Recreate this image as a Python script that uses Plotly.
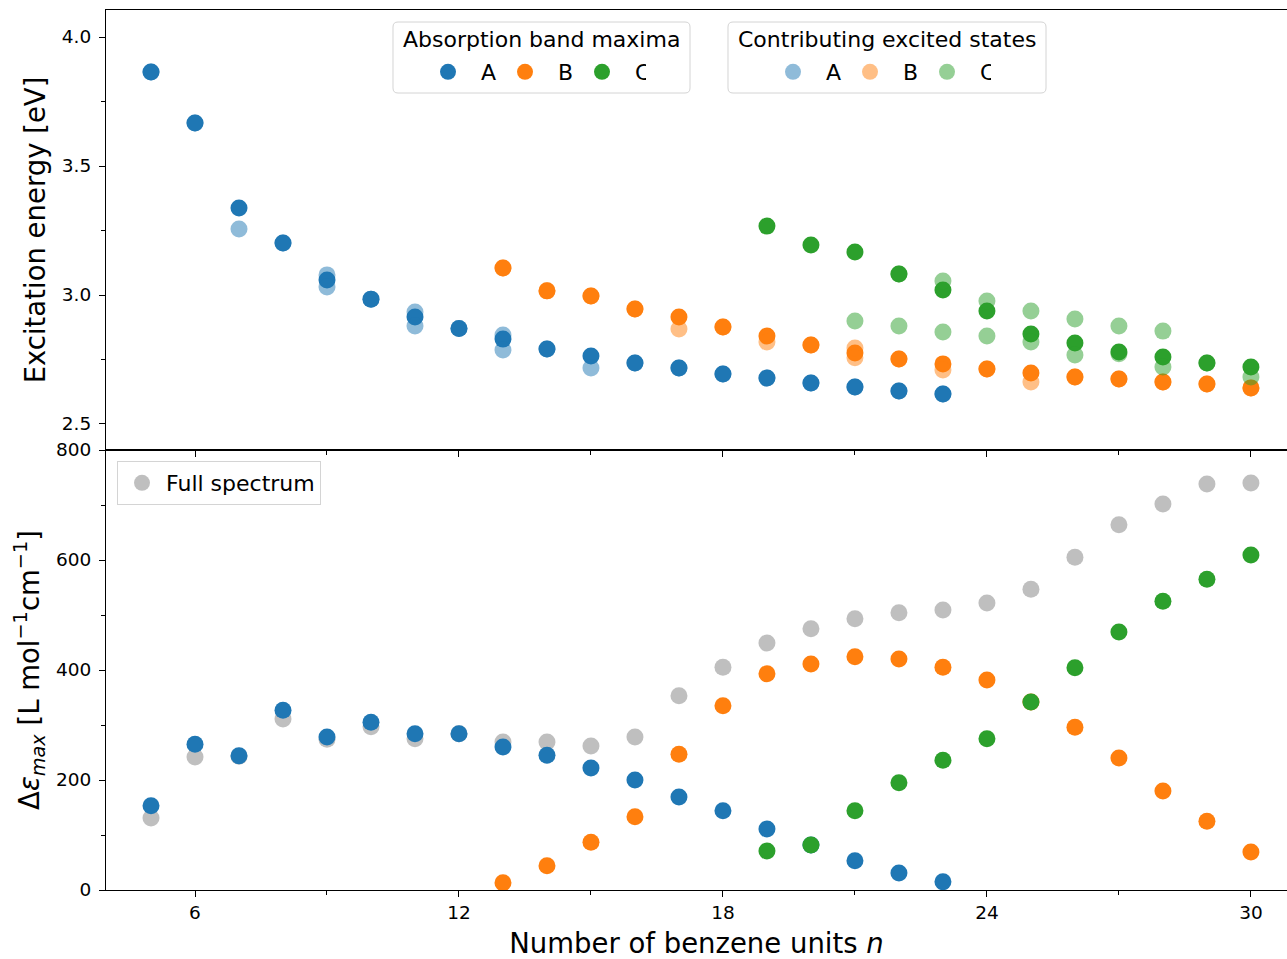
import plotly.graph_objects as go

# ---------------- data ----------------
n_A = list(range(5, 24))
E_A = [3.864, 3.667, 3.337, 3.202, 3.058, 2.984, 2.915, 2.870, 2.829, 2.791,
       2.764, 2.736, 2.717, 2.694, 2.678, 2.659, 2.643, 2.628, 2.616]
n_B = list(range(13, 31))
E_B = [3.105, 3.016, 2.996, 2.946, 2.915, 2.876, 2.841, 2.806, 2.775, 2.752,
       2.733, 2.713, 2.698, 2.682, 2.674, 2.663, 2.655, 2.640]
n_C = list(range(19, 31))
E_C = [3.267, 3.194, 3.167, 3.081, 3.019, 2.938, 2.849, 2.814, 2.779, 2.760,
       2.736, 2.721]

# contributing excited states
xs_A = [5, 6, 7, 8, 9, 9, 10, 11, 11, 12, 13, 13, 14, 15, 16, 17, 18, 19, 20, 21, 22, 23]
es_A = [3.864, 3.667, 3.256, 3.202, 3.078, 3.031, 2.984, 2.934, 2.880, 2.870, 2.845,
        2.787, 2.791, 2.717, 2.736, 2.717, 2.694, 2.678, 2.659, 2.643, 2.628, 2.616]
xs_B = [13, 14, 15, 16, 17, 18, 19, 20, 21, 21, 22, 23, 24, 25, 26, 27, 28, 29, 30]
es_B = [3.105, 3.016, 2.996, 2.946, 2.868, 2.876, 2.818, 2.806, 2.795, 2.757, 2.752,
        2.709, 2.713, 2.663, 2.682, 2.674, 2.663, 2.655, 2.640]
xs_C = [21, 22, 22, 23, 23, 24, 24, 25, 25, 26, 26, 27, 27, 28, 28, 29, 30]
es_C = [2.899, 3.081, 2.880, 3.054, 2.857, 2.977, 2.841, 2.938, 2.818, 2.907, 2.767,
        2.880, 2.772, 2.860, 2.721, 2.736, 2.682]

# intensities
n_full = list(range(5, 31))
eps_full = [131, 242, 243, 311, 274, 297, 275, 284, 269, 269, 262, 278, 353, 405,
            449, 475, 493, 504, 509, 522, 547, 605, 664, 702, 738, 740]
eps_A = [153, 265, 244, 327, 278, 305, 284, 284, 260, 245, 222, 200, 169, 144,
         111, 82, 53, 31, 15]
eps_B = [13, 44, 87, 133, 247, 335, 393, 411, 424, 420, 405, 382, 342, 296, 240,
         180, 125, 69]
eps_C = [71, 82, 144, 195, 236, 275, 342, 404, 469, 525, 565, 609]

labels = ["A", "B", "C"]
colors = ["#1f77b4", "#ff7f0e", "#2ca02c"]
legend_titles = ["Absorption band maxima", "Contributing excited states"]

# ---------------- figure ----------------
FONT = "DejaVu Sans"
MS = 17
W, H = 1287, 959
ML, MT, MB = 106, 10, 69
PW, PH = W - ML, H - MT - MB

fig = go.Figure()

fig.add_trace(go.Scatter(x=n_full, y=eps_full, mode="markers", name="Full spectrum",
                         marker=dict(size=MS, color="rgba(127,127,127,0.5)"),
                         xaxis="x2", yaxis="y2", legend="legend3"))
for lab, col, xx, yy in zip(labels, colors, [n_A, n_B, n_C], [eps_A, eps_B, eps_C]):
    fig.add_trace(go.Scatter(x=xx, y=yy, mode="markers", name=lab, showlegend=False,
                             marker=dict(size=MS, color=col), xaxis="x2", yaxis="y2"))

for lab, col, xx, yy in zip(labels, colors, [n_A, n_B, n_C], [E_A, E_B, E_C]):
    fig.add_trace(go.Scatter(x=xx, y=yy, mode="markers", name=lab,
                             marker=dict(size=MS, color=col),
                             xaxis="x", yaxis="y", legend="legend"))
for lab, col, xx, yy in zip(labels, colors, [xs_A, xs_B, xs_C], [es_A, es_B, es_C]):
    fig.add_trace(go.Scatter(x=xx, y=yy, mode="markers", name=lab,
                             marker=dict(size=MS, color=col, opacity=0.5),
                             xaxis="x", yaxis="y", legend="legend2"))


def px_x(p):
    return (p - ML) / PW


def px_y(p):
    return (H - MB - p) / PH


def rounded_box(x0, y0, x1, y1, r=5):
    X = lambda v: f"{px_x(v):.5f}"
    Y = lambda v: f"{px_y(v):.5f}"
    return (f"M {X(x0 + r)},{Y(y0)} L {X(x1 - r)},{Y(y0)} Q {X(x1)},{Y(y0)} {X(x1)},{Y(y0 + r)} "
            f"L {X(x1)},{Y(y1 - r)} Q {X(x1)},{Y(y1)} {X(x1 - r)},{Y(y1)} "
            f"L {X(x0 + r)},{Y(y1)} Q {X(x0)},{Y(y1)} {X(x0)},{Y(y1 - r)} "
            f"L {X(x0)},{Y(y0 + r)} Q {X(x0)},{Y(y0)} {X(x0 + r)},{Y(y0)} Z")


boxes = [(393, 22, 690, 93), (728, 22, 1046, 93)]
title_cx = [541, 887]
for (bx0, by0, bx1, by1), tx, ttl in zip(boxes, title_cx, legend_titles):
    fig.add_shape(type="path", xref="paper", yref="paper", layer="above",
                  path=rounded_box(bx0, by0, bx1, by1),
                  fillcolor="rgba(255,255,255,0.8)", line=dict(color="#d4d4d4", width=1))
    fig.add_annotation(xref="paper", yref="paper", x=px_x(tx), y=px_y(40),
                       xanchor="center", yanchor="middle", showarrow=False, text=ttl,
                       font=dict(family=FONT, size=22, color="black"))

minor_tick = dict(ticks="outside", ticklen=4, tickwidth=1, tickcolor="black")
axis_common = dict(showline=True, linecolor="black", linewidth=1.2, ticks="outside",
                   ticklen=6, tickwidth=1.2, tickcolor="black", showgrid=False,
                   zeroline=False, automargin=False,
                   tickfont=dict(family=FONT, size=18.5, color="black"))
TFONT = dict(family=FONT, size=27.5, color="black")
xr = [3.977, 30.82]

item_leg = dict(orientation="h", xanchor="left", yanchor="middle", bgcolor="rgba(0,0,0,0)",
                borderwidth=0, itemsizing="trace", itemwidth=56, entrywidth=6,
                font=dict(family=FONT, size=22, color="black"))

fig.update_layout(
    width=W, height=H,
    margin=dict(l=ML, r=0, t=MT, b=MB),
    plot_bgcolor="white", paper_bgcolor="white",
    font=dict(family=FONT, color="black"),
    xaxis=dict(domain=[0, 1], anchor="y", range=xr, tickvals=[6, 12, 18, 24, 30],
               showticklabels=False, mirror=True,
               minor=dict(tickvals=[9, 15, 21, 27], **minor_tick), **axis_common),
    yaxis=dict(domain=[0.5, 1], anchor="x", range=[2.3992, 4.1047],
               tickvals=[2.5, 3.0, 3.5, 4.0], ticktext=["2.5", "3.0", "3.5", "4.0"],
               minor=dict(tickvals=[2.75, 3.25, 3.75], **minor_tick),
               ticklabelstandoff=4,
               title=dict(text="Excitation energy [eV]", font=TFONT, standoff=8),
               **axis_common),
    xaxis2=dict(domain=[0, 1], anchor="y2", range=xr, tickvals=[6, 12, 18, 24, 30],
                matches="x", mirror=True,
                minor=dict(tickvals=[9, 15, 21, 27], **minor_tick),
                title=dict(text="Number of benzene units <i>n</i>", font=TFONT),
                **axis_common),
    yaxis2=dict(domain=[0, 0.5], anchor="x2", range=[0, 800],
                tickvals=[0, 200, 400, 600, 800],
                minor=dict(tickvals=[100, 300, 500, 700], **minor_tick),
                ticklabelstandoff=4,
                title=dict(text="Δ<i>ε</i><sub><i>max</i></sub> [L mol<sup>−1</sup>cm<sup>−1</sup>]",
                           font=TFONT, standoff=8),
                **axis_common),
    legend=dict(x=px_x(415), y=px_y(72), **item_leg),
    legend2=dict(x=px_x(760), y=px_y(72), **item_leg),
    legend3=dict(x=px_x(117), y=px_y(461), xanchor="left", yanchor="top",
                 bgcolor="rgba(255,255,255,0.8)", bordercolor="#d4d4d4", borderwidth=1,
                 itemsizing="trace", itemwidth=38,
                 font=dict(family=FONT, size=22, color="black")),
)

fig.write_html("out.html", config={"displayModeBar": False},
               post_script="document.body.style.margin='0px';")
